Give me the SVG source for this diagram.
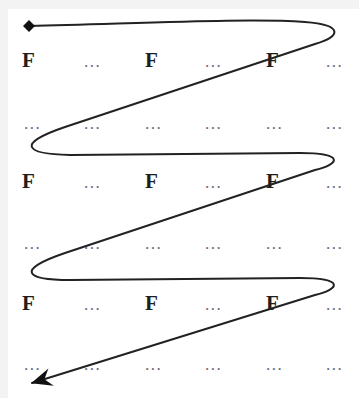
<svg xmlns="http://www.w3.org/2000/svg" width="359" height="398" viewBox="0 0 359 398">
<style>
.f{font-family:"Liberation Serif","Times New Roman",serif;font-weight:bold;font-size:21px;fill:#1e1e1e}
.d{font-family:"Liberation Serif","Times New Roman",serif;font-size:17px;fill:#6a6a78;letter-spacing:1.5px}
.c{fill:none;stroke:#222;stroke-width:2;stroke-linecap:round;stroke-linejoin:round}
</style>
<defs>
<marker id="dia" markerUnits="userSpaceOnUse" markerWidth="16" markerHeight="16" refX="8" refY="8" orient="0" overflow="visible">
<path d="M8,2 L14,8 L8,14 L2,8 Z" fill="#111"/>
</marker>
<marker id="arr" markerUnits="userSpaceOnUse" markerWidth="26" markerHeight="22" refX="0" refY="0" orient="auto" overflow="visible">
<path d="M1,0 L-20,-9 L-13,0 L-20,9 Z" fill="#111"/>
</marker>
</defs>
<rect width="359" height="398" fill="#ffffff"/>
<rect width="359" height="9" fill="#f3f3f3"/>
<rect width="8" height="398" fill="#f3f3f3"/>
<g id="grid">
<g id="r1">
<text class="f" x="22" y="67">F</text><text class="d" x="84" y="67">...</text>
<text class="f" x="145" y="67">F</text><text class="d" x="205" y="67">...</text>
<text class="f" x="266" y="67">F</text><text class="d" x="326" y="67">...</text>
</g>
<g id="r2">
<text class="d" x="24" y="129">...</text><text class="d" x="84" y="129">...</text>
<text class="d" x="145" y="129">...</text><text class="d" x="205" y="129">...</text>
<text class="d" x="266" y="129">...</text><text class="d" x="326" y="129">...</text>
</g>
<g id="r3">
<text class="f" x="22" y="188">F</text><text class="d" x="84" y="188">...</text>
<text class="f" x="145" y="188">F</text><text class="d" x="205" y="188">...</text>
<text class="f" x="266" y="188">F</text><text class="d" x="326" y="188">...</text>
</g>
<g id="r4">
<text class="d" x="24" y="249">...</text><text class="d" x="84" y="249">...</text>
<text class="d" x="145" y="249">...</text><text class="d" x="205" y="249">...</text>
<text class="d" x="266" y="249">...</text><text class="d" x="326" y="249">...</text>
</g>
<g id="r5">
<text class="f" x="22" y="310">F</text><text class="d" x="84" y="310">...</text>
<text class="f" x="145" y="310">F</text><text class="d" x="205" y="310">...</text>
<text class="f" x="266" y="310">F</text><text class="d" x="326" y="310">...</text>
</g>
<g id="r6">
<text class="d" x="24" y="370">...</text><text class="d" x="84" y="370">...</text>
<text class="d" x="145" y="370">...</text><text class="d" x="205" y="370">...</text>
<text class="d" x="266" y="370">...</text><text class="d" x="326" y="370">...</text>
</g>
</g>
<g id="connectors">
<path class="c" marker-start="url(#dia)" marker-end="url(#arr)" d="M29,26 C150,23 250,18 305,22 C345,25 340,37 315,44 L65,127 C15,144 25,154 70,155 L300,153 C345,153 340,164 315,170 L65,253 C15,270 25,280 70,280 L300,278 C345,278 340,289 315,295 L32,383"/>
</g>
</svg>
